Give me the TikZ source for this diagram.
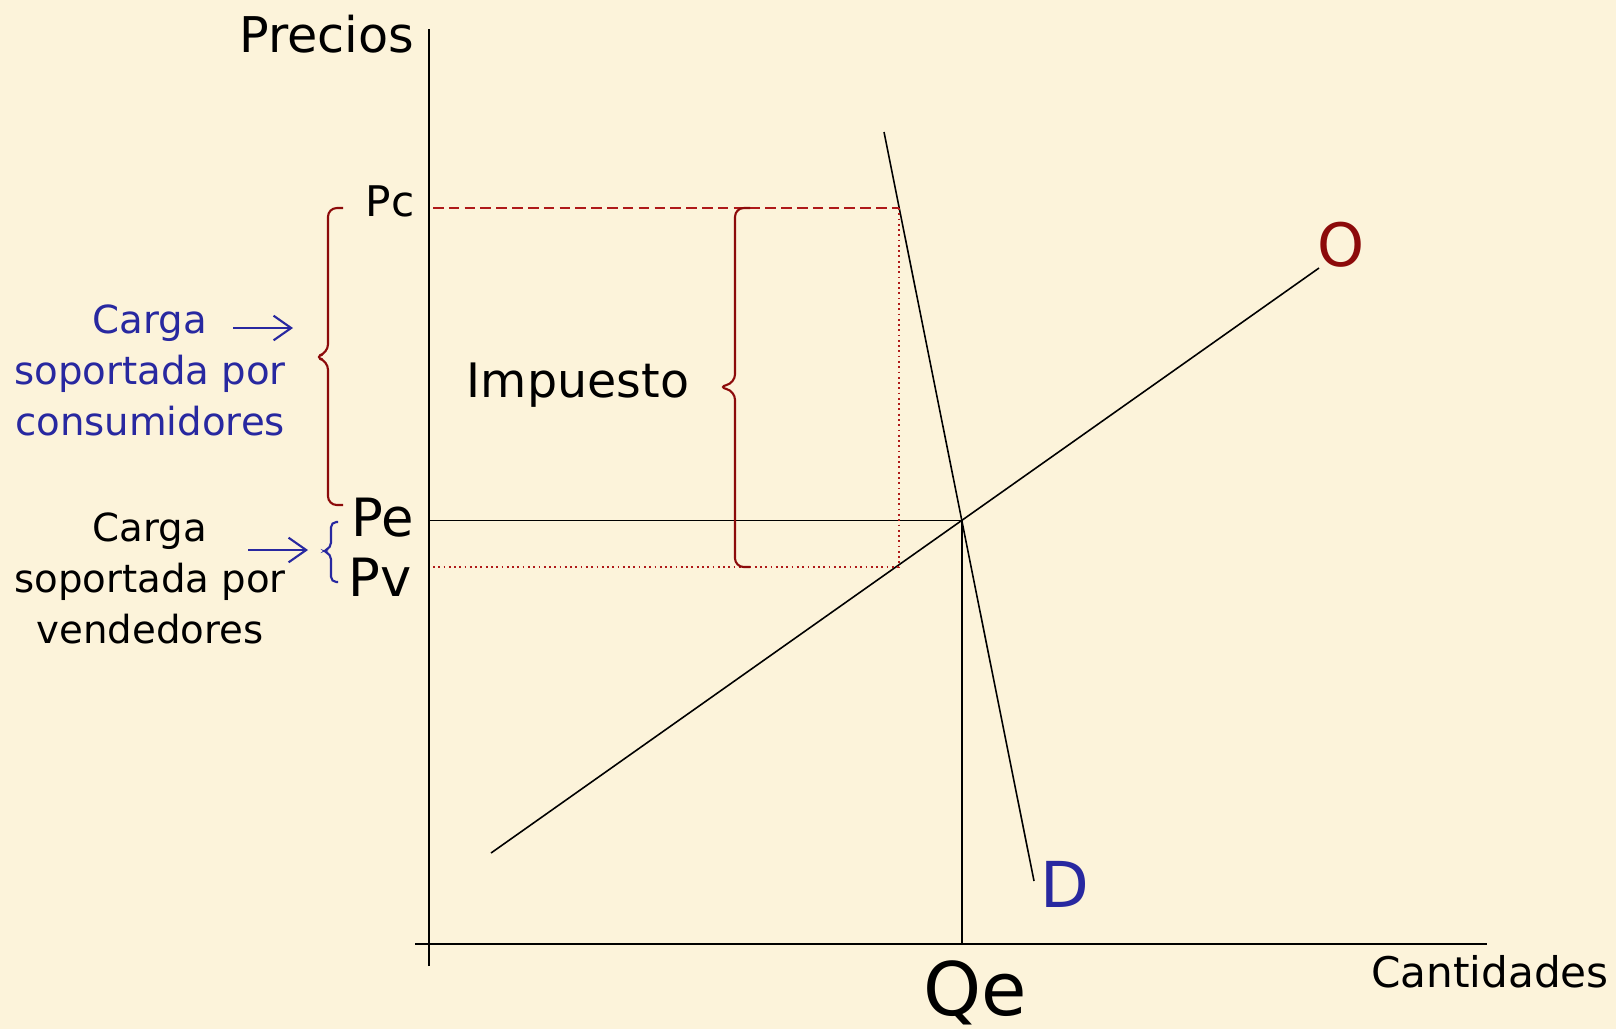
\documentclass[tikz,border=0pt]{standalone}
\usepackage{fontspec}
\setmainfont{DejaVu Sans}
\usetikzlibrary{arrows.meta}

\definecolor{papel}{RGB}{252,243,218}
\definecolor{azul}{RGB}{40,40,160}
\definecolor{rojo}{RGB}{140,10,10}
\definecolor{rojopunto}{RGB}{175,25,25}

\begin{document}
\begin{tikzpicture}[x=0.01cm, y=-0.01cm,
    eje/.style={draw=black, line width=0.6pt},
    curva/.style={draw=black, line width=0.45pt},
    guia/.style={draw=rojopunto, line width=0.5pt, densely dotted},
    llave/.style={draw=rojo, line width=0.6pt, rounded corners=2.5pt},
    flecha/.style={-{Straight Barb[length=5pt, width=7pt]}, draw=azul, line width=0.6pt},
    etiqueta/.style={inner sep=0pt, anchor=base}
]
    % fondo
    \fill[papel] (0,0) rectangle (1616,1029);
    \useasboundingbox (0,0) rectangle (1616,1029);

    % ejes
    \coordinate (ytop) at (429,29);
    \coordinate (ybot) at (429,966);
    \coordinate (xleft) at (415,944);
    \coordinate (xright) at (1487,944);
    \draw[eje] (ybot) -- (ytop);
    \draw[eje] (xleft) -- (xright);
    \node[etiqueta, font=\fontsize{14}{17}\selectfont] (precios) at (327,52) {Precios};
    \node[etiqueta, font=\fontsize{12}{15}\selectfont] (cantidades) at (1490,987) {Cantidades};

    % oferta y demanda
    \coordinate (d1) at (884,132);
    \coordinate (d2) at (1034,881);
    \coordinate (o1) at (491,853);
    \coordinate (o2) at (1319,268);
    \draw[curva] (d1) -- (d2);
    \draw[curva] (o1) -- (o2);
    \coordinate (eq) at (intersection of d1--d2 and o1--o2);
    \draw[curva] (eq -| ytop) -- (eq);
    \draw[curva] (eq) -- (eq |- xleft);
    \node[etiqueta, text=azul, font=\fontsize{18}{21}\selectfont] (dem) at (1065,907) {D};
    \node[etiqueta, text=rojo, font=\fontsize{17}{20}\selectfont] (ofe) at (1341,266) {O};
    \node[etiqueta, font=\fontsize{21}{24}\selectfont] (qe) at (975,1015) {Qe};

    % precios con impuesto
    \coordinate (pcA) at (433,208);
    \coordinate (pcD) at (899,208);
    \coordinate (pvA) at (433,567);
    \coordinate (pvD) at (899,567);
    \draw[guia, dashed, dash pattern=on 3pt off 1.5pt] (pcA) -- (pcD);
    \draw[guia] (pvA) -- (pvD);
    \draw[guia] (pcD) -- (pvD);
    \node[etiqueta, anchor=base east, font=\fontsize{12}{15}\selectfont] (pc) at (415,216) {Pc};
    \node[etiqueta, anchor=base east, font=\fontsize{15}{18}\selectfont] (pe) at (415,536) {Pe};
    \node[etiqueta, anchor=base east, font=\fontsize{15}{18}\selectfont] (pv) at (412,596) {Pv};

    % llaves
    \draw[llave] (750,208) -- (735,208) -- (735,383) -- (718,387) -- (735,391) -- (735,567) -- (750,567);
    \node[etiqueta, font=\fontsize{13.5}{16}\selectfont] (impuesto) at (578,397) {Impuesto};
    \draw[llave] (343,208) -- (328,208) -- (328,353) -- (314,357) -- (328,361) -- (328,505) -- (343,505);
    \draw[llave, draw=azul, rounded corners=1.5pt] (338,522) -- (331,522) -- (331,548) -- (323,551) -- (331,554) -- (331,582) -- (338,582);

    % cargas
    \node[etiqueta, text=azul, align=center, font=\fontsize{11}{14.5}\selectfont] (cargaC) at (150,435)
        {Carga\\soportada por\\consumidores};
    \node[etiqueta, align=center, font=\fontsize{11}{14.5}\selectfont] (cargaV) at (150,643)
        {Carga\\soportada por\\vendedores};
    \coordinate (fc1) at (233,328);
    \coordinate (fc2) at (293,328);
    \coordinate (fv1) at (248,550);
    \coordinate (fv2) at (308,550);
    \draw[flecha] (fc1) -- (fc2);
    \draw[flecha] (fv1) -- (fv2);
\end{tikzpicture}
\end{document}
